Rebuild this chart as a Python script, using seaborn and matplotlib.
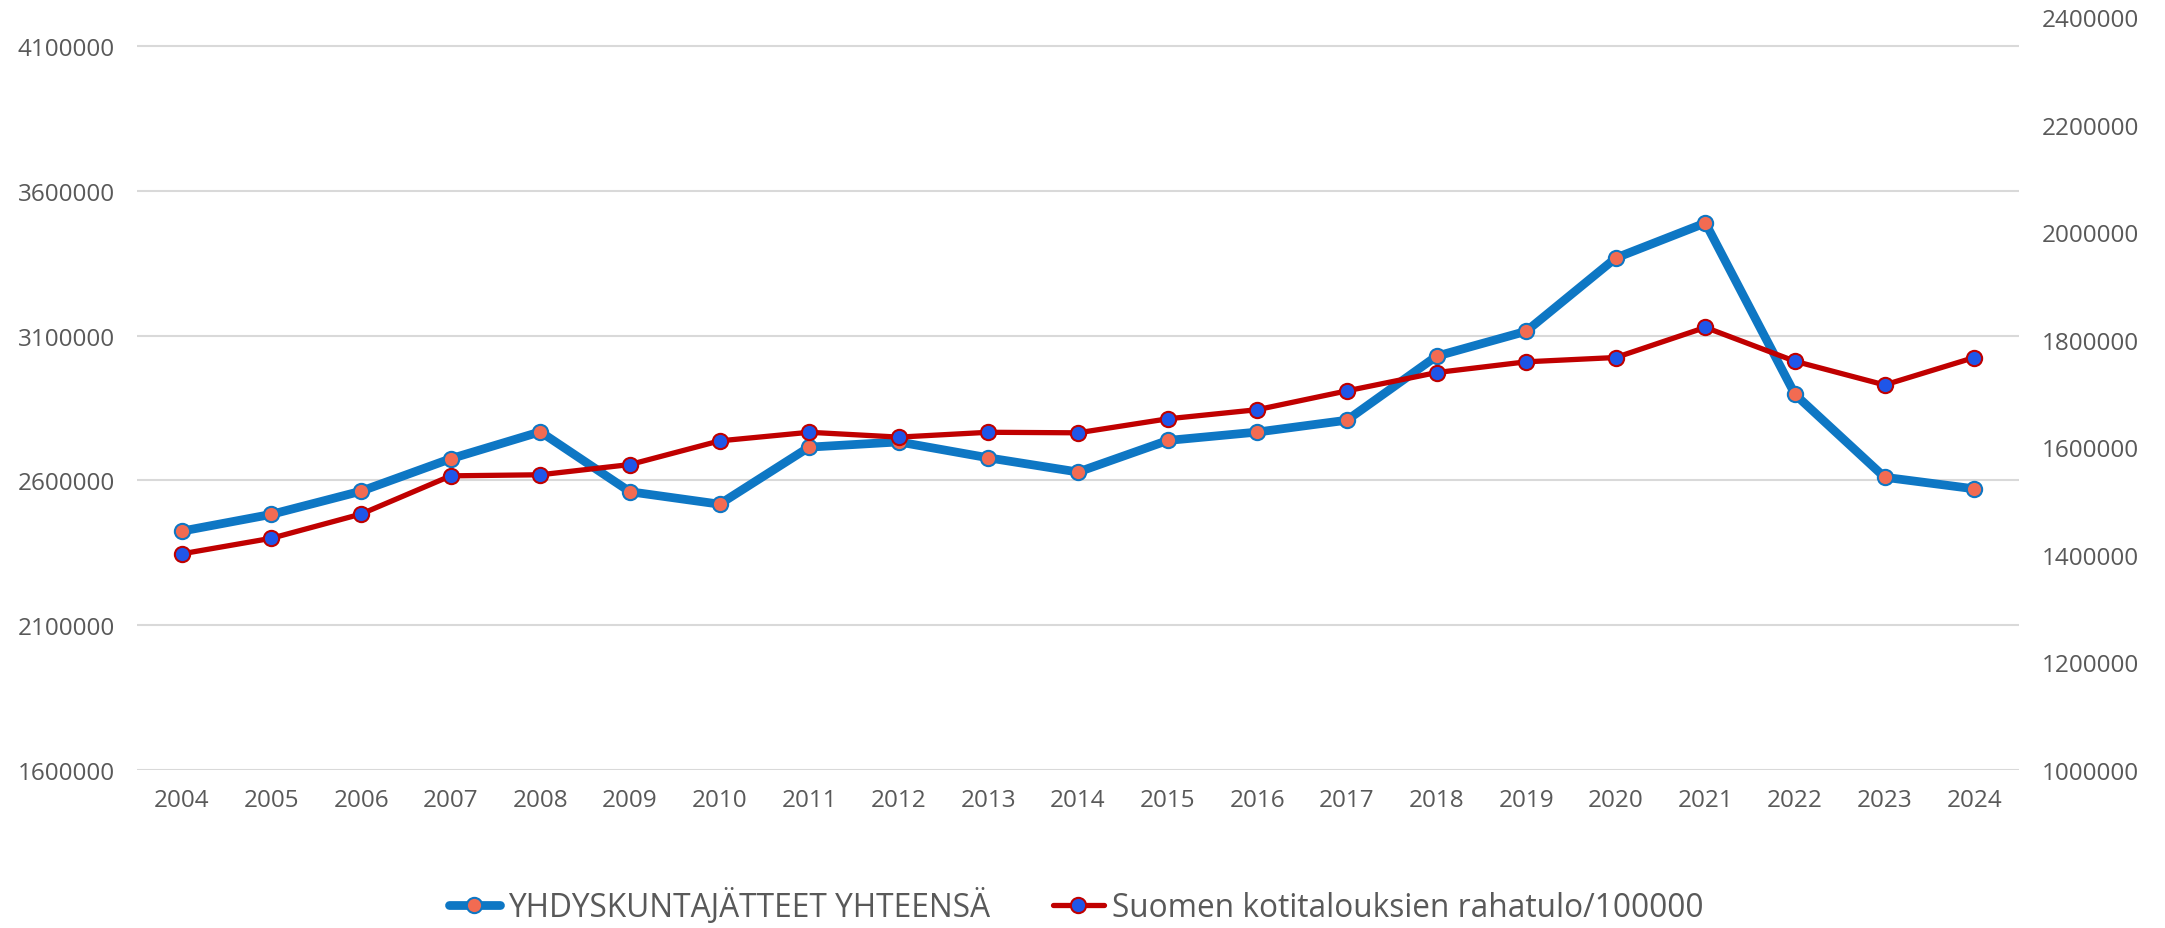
import matplotlib
matplotlib.use("Agg")
import matplotlib.pyplot as plt
import seaborn as sns
import pandas as pd
from matplotlib.lines import Line2D

years = [str(y) for y in range(2004, 2025)]
waste = [2425000, 2483000, 2563000, 2675000, 2768000, 2561000, 2518000,
         2715000, 2733000, 2678000, 2629000, 2738000, 2767000, 2808000,
         3029000, 3115000, 3368000, 3489000, 2897000, 2611000, 2571000]
income = [1402000, 1431000, 1476000, 1547000, 1549000, 1568000, 1612000,
          1628000, 1619000, 1628000, 1627000, 1653000, 1670000, 1705000,
          1739000, 1759000, 1767000, 1823000, 1760000, 1716000, 1767000]
name_waste = "YHDYSKUNTAJÄTTEET YHTEENSÄ"
name_income = "Suomen kotitalouksien rahatulo/100000"

left_ticks = [1600000, 2100000, 2600000, 3100000, 3600000, 4100000]
right_ticks = [1000000, 1200000, 1400000, 1600000, 1800000, 2000000, 2200000, 2400000]

sns.set_theme(style="white")
plt.rcParams['font.family'] = ['Open Sans', 'DejaVu Sans']

df = pd.DataFrame({"year": years, "waste": waste, "income": income})
df["x"] = range(len(years))

fig = plt.figure(figsize=(21.65, 9.29), dpi=100)
ax = fig.add_axes([0.0633, 0.170, 0.8693, 0.8106])
ax2 = ax.twinx()

blue = "#0E77C4"
red = "#C00000"
salmon = "#F26B52"
bdot = "#1F56E8"

sns.lineplot(data=df, x="x", y="waste", ax=ax, color=blue, linewidth=6.3,
             marker="o", markersize=11, markerfacecolor=salmon,
             markeredgecolor=blue, markeredgewidth=1.5, zorder=3)
sns.lineplot(data=df, x="x", y="income", ax=ax2, color=red, linewidth=3.8,
             marker="o", markersize=11, markerfacecolor=bdot,
             markeredgecolor=red, markeredgewidth=1.5, zorder=3)

ax.set_xlim(-0.5, len(years) - 0.5)
ax.set_ylim(1600000, 4200000)
ax2.set_ylim(1000000, 2400000)
ax.set_yticks(left_ticks)
ax.set_yticklabels([str(v) for v in left_ticks])
ax2.set_yticks(right_ticks)
ax2.set_yticklabels([str(v) for v in right_ticks])
ax.set_xticks(range(len(years)))
ax.set_xticklabels(years)

ax.grid(axis="y", color="#D9D9D9", linewidth=1.5)
ax.grid(axis="x", visible=False)
ax2.grid(False)
ax.set_axisbelow(True)
for a in (ax, ax2):
    for s in a.spines.values():
        s.set_visible(False)
    a.set_xlabel("")
    a.set_ylabel("")
    a.tick_params(length=0, colors="#595959", labelsize=17.5)
ax.tick_params(axis="y", pad=16)
ax2.tick_params(axis="y", pad=16)
ax.tick_params(axis="x", pad=13)

handles = [
    Line2D([0], [0], color=blue, linewidth=6.3, marker="o", markersize=11,
           markerfacecolor=salmon, markeredgecolor=blue, markeredgewidth=1.5),
    Line2D([0], [0], color=red, linewidth=3.8, marker="o", markersize=11,
           markerfacecolor=bdot, markeredgecolor=red, markeredgewidth=1.5),
]
leg = fig.legend(handles, [name_waste, name_income], loc="center",
                 bbox_to_anchor=(0.497, 0.024), ncol=2, frameon=False,
                 fontsize=22.8, handlelength=1.6, handletextpad=0.25,
                 columnspacing=2.0)
for t in leg.get_texts():
    t.set_color("#595959")

fig.savefig("out.png", dpi=100)
